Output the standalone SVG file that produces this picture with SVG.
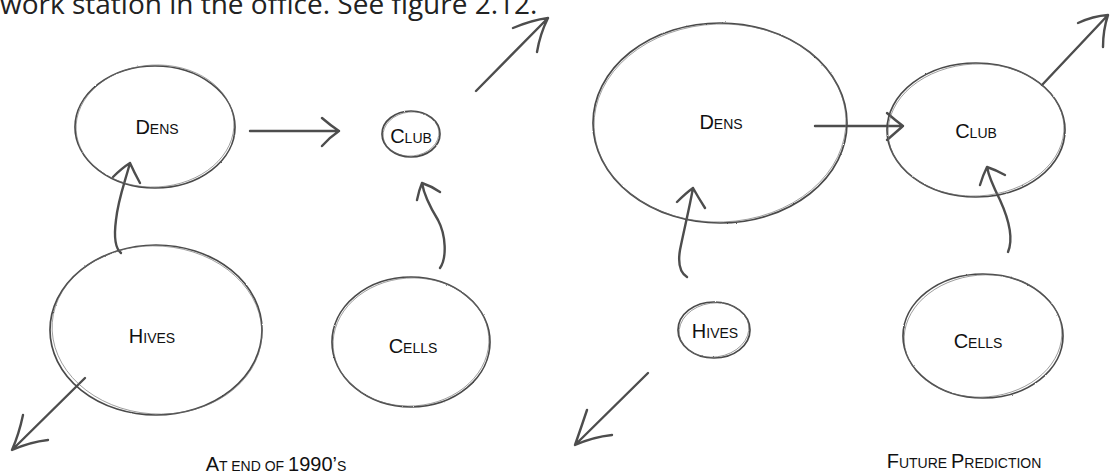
<svg xmlns="http://www.w3.org/2000/svg" width="1111" height="475" viewBox="0 0 1111 475">
  <style>
    .node { fill: none; stroke: #4a4a4a; stroke-width: 1.7; }
    .node2 { fill: none; stroke: #6a6a6a; stroke-width: 0.9; opacity: 0.7; }
    .wire { fill: none; stroke: #4d4d4d; stroke-width: 2.4; stroke-linecap: round; stroke-linejoin: round; }
    .lbl { font-family: "Liberation Sans", Arial, sans-serif; font-size: 20px; fill: #111; text-anchor: middle; }
    .sc { font-size: 14px; }
    .body { font-family: "Open Sans", "DejaVu Sans", sans-serif; font-size: 28px; fill: #222; }
  </style>
  <defs>
    <filter id="pencil" x="-10%" y="-10%" width="120%" height="120%">
      <feTurbulence type="fractalNoise" baseFrequency="0.9" numOctaves="2" seed="3" result="n"/>
      <feDisplacementMap in="SourceGraphic" in2="n" scale="1.6" xChannelSelector="R" yChannelSelector="G"/>
    </filter>
  </defs>
  <rect width="1111" height="475" fill="#fff"/>

  <!-- running text of the page, cut at the top edge -->
  <text class="body" x="0" y="14">work station in the office. See figure 2.12.</text>

  <!-- connectors -->
  <g id="connectors">
    <!-- left: end of the 1990s -->
    <path class="wire" d="M250,131 L339,131 M322,118 Q330,125 339,131 Q330,137 322,146"/>
    <path class="wire" d="M476,91 L548,18 M513,28 Q532,20 548,18 Q540,34 537,52"/>
    <path class="wire" d="M121,253 C115,248 114,235 116,220 C118,200 124,185 130,163 M113,177 Q122,168 130,163 Q134,172 140,183"/>
    <path class="wire" d="M85,378 L12,450 M23,415 Q19,434 12,450 Q30,442 48,440"/>
    <path class="wire" d="M440,268 C447,258 446,235 438,220 C430,207 424,195 422,183 M417,200 Q419,190 422,183 Q431,186 440,192"/>
    <!-- right: prediction -->
    <path class="wire" d="M815,126 L903,126 M887,113 Q895,120 903,126 Q895,133 887,140"/>
    <path class="wire" d="M1042,85 L1108,15 M1078,23 Q1093,16 1108,15 Q1103,30 1103,47"/>
    <path class="wire" d="M687,277 C679,272 678,262 680,250 C684,230 689,210 693,188 M677,202 Q686,193 693,188 Q698,197 705,208"/>
    <path class="wire" d="M648,373 L575,445 M587,410 Q581,428 575,445 Q593,437 612,435"/>
    <path class="wire" d="M1008,252 C1013,240 1010,222 1000,200 C994,188 989,178 987,167 M980,185 Q983,175 987,167 Q996,170 1005,175"/>
  </g>

  <!-- left diagram nodes -->
  <g id="dens-1990">
    <ellipse class="node" cx="155" cy="127" rx="80" ry="61" filter="url(#pencil)"/>
    <ellipse class="node2" cx="155" cy="126" rx="79" ry="61" transform="rotate(-3 155 126)"/>
    <text class="lbl" x="157" y="134">D<tspan class="sc">ENS</tspan></text>
  </g>
  <g id="club-1990">
    <ellipse class="node" cx="411" cy="134" rx="29" ry="23" filter="url(#pencil)"/>
    <ellipse class="node2" cx="411" cy="134" rx="28" ry="22" transform="rotate(-6 411 134)"/>
    <text class="lbl" x="411" y="143">C<tspan class="sc">LUB</tspan></text>
  </g>
  <g id="hives-1990">
    <ellipse class="node" cx="156" cy="330" rx="106" ry="85" filter="url(#pencil)"/>
    <ellipse class="node2" cx="157" cy="330" rx="105" ry="84" transform="rotate(4 157 330)"/>
    <text class="lbl" x="152" y="343">H<tspan class="sc">IVES</tspan></text>
  </g>
  <g id="cells-1990">
    <ellipse class="node" cx="411" cy="342" rx="79" ry="65" filter="url(#pencil)"/>
    <ellipse class="node2" cx="411" cy="342" rx="78" ry="64" transform="rotate(-4 411 342)"/>
    <text class="lbl" x="413" y="353">C<tspan class="sc">ELLS</tspan></text>
  </g>

  <!-- right diagram nodes -->
  <g id="dens-future">
    <ellipse class="node" cx="720" cy="123" rx="127" ry="100" filter="url(#pencil)"/>
    <ellipse class="node2" cx="720" cy="123" rx="126" ry="99" transform="rotate(-2 720 123)"/>
    <text class="lbl" x="721" y="129">D<tspan class="sc">ENS</tspan></text>
  </g>
  <g id="club-future">
    <ellipse class="node" cx="976" cy="130" rx="89" ry="67" filter="url(#pencil)"/>
    <ellipse class="node2" cx="976" cy="130" rx="88" ry="66" transform="rotate(-3 976 130)"/>
    <text class="lbl" x="976" y="138">C<tspan class="sc">LUB</tspan></text>
  </g>
  <g id="hives-future">
    <ellipse class="node" cx="714" cy="330" rx="36" ry="28" filter="url(#pencil)"/>
    <ellipse class="node2" cx="714" cy="330" rx="35" ry="27" transform="rotate(-8 714 330)"/>
    <text class="lbl" x="715" y="338">H<tspan class="sc">IVES</tspan></text>
  </g>
  <g id="cells-future">
    <ellipse class="node" cx="983" cy="336" rx="80" ry="62" filter="url(#pencil)"/>
    <ellipse class="node2" cx="983" cy="336" rx="79" ry="61" transform="rotate(-5 983 336)"/>
    <text class="lbl" x="978" y="348">C<tspan class="sc">ELLS</tspan></text>
  </g>

  <!-- captions -->
  <text class="lbl" x="276" y="471">A<tspan class="sc">T END OF </tspan>1990’<tspan class="sc">S</tspan></text>
  <text class="lbl" x="964" y="468">F<tspan class="sc">UTURE </tspan>P<tspan class="sc">REDICTION</tspan></text>
</svg>
